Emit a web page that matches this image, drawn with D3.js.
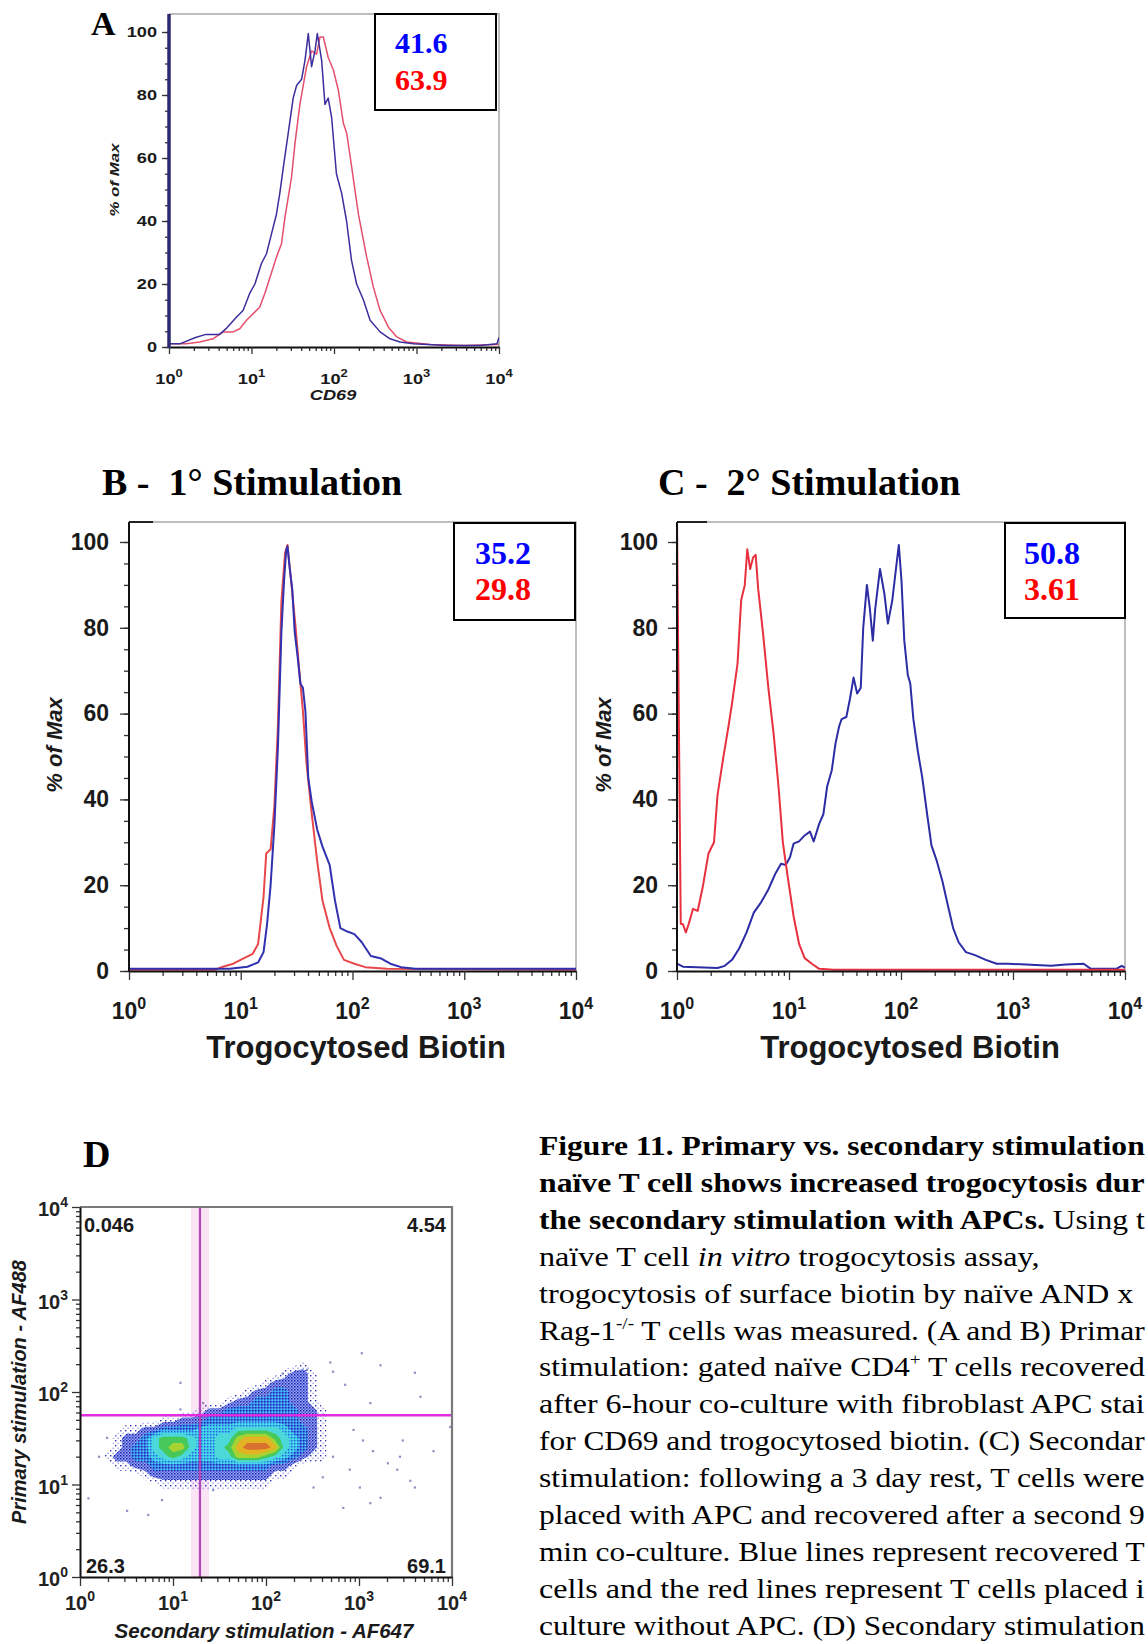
<!DOCTYPE html>
<html>
<head>
<meta charset="utf-8">
<title>Figure 11</title>
<style>
    body { margin: 0; background: #fff; overflow: hidden; }
    svg { display: block; }
</style>
<script src="https://d3js.org/d3.v7.min.js"></script>
</head>
<body>
<svg width="1148" height="1644"></svg>
<script>
// ---- ticks ----
const tickDecades = [1, 10, 100, 1000, 10000];
const tickExponents = ["0", "1", "2", "3", "4"];
const pctTicks = [0, 20, 40, 60, 80, 100];
const pctMinor = d3.range(0, 101, 5);
const minorDecadeTicks = tickDecades.slice(0, -1).flatMap(d => d3.range(2, 10).map(k => k * d));

// ---- panel A: CD69 (value, % of max) ----
const aBlue = [[1,1],[1.35,1],[2.1,3],[2.8,4],[4.1,4],[5,6],[6.6,9.5],[7.9,11.6],[9.5,17],[11,20],[13.2,26.5],[15.2,29.6],[17.5,36],[20,42],[22,48.7],[24.3,57],[27.9,68],[32,79],[35.2,83],[40.5,85],[44.5,91],[48.8,99.5],[53.5,89],[58.8,94],[62.8,99.5],[70.8,91],[77.7,77],[85,79],[93.5,73],[107,55],[124,48.7],[142,40],[163,27.5],[188,20],[227,15],[274,8.5],[362,4.8],[478,2.6],[632,1.6],[916,1],[2340,0.5],[5920,0.5],[9460,1],[10000,3]];
const aRed = [[1,1],[1.62,1],[2.36,1.6],[3.42,2.6],[4.53,4.8],[5.99,4.8],[7.2,5.8],[8.7,8.5],[10.5,10.6],[12.6,12.7],[14.5,17],[16.7,22],[20.1,28.6],[23.1,32.8],[25.4,41],[27.9,47.6],[30.6,54],[33.6,64.5],[38.6,77],[46.5,89],[53.5,94],[61.5,93],[67.6,98.4],[74.2,98.4],[85,92],[98,88],[113,81.5],[130,71],[143,67.7],[164,57],[198,42],[249,28.6],[300,19],[362,11.6],[457,6.3],[577,3.2],[763,1.6],[1466,0.8],[3720,0.5],[9900,0.8]];
const aStats = ["41.6", "63.9"];

// ---- panel B: 1° stimulation ----
const bBlue = [[1,0.5],[6.9,0.5],[7.95,0.5],[11.5,1],[14.3,2],[16,4.4],[17.2,10.9],[18.5,20],[20,34],[21.5,52],[23.1,79],[24.4,91],[25.5,98],[26.2,99],[27.4,94],[28.9,89],[30.4,79],[32.2,73.5],[34.2,67],[36,66],[37.9,60.6],[40.2,45],[43.2,39.4],[48.3,33],[53.9,29],[62.5,24.7],[69.7,16.4],[77.9,10],[90,9.2],[104,8.6],[121,6.7],[146,3.5],[181,2.9],[218,1.7],[272,0.9],[365,0.5],[10000,0.5]];
const bRed = [[1,0.3],[5.93,0.3],[6.9,1],[8.57,1.7],[10.7,3],[12.8,4],[14.3,6.3],[16,17.3],[16.9,27.4],[18.5,28.4],[20,38.5],[21.5,57],[23.1,86],[24.9,97.4],[26.2,99.3],[28.2,91],[31,80],[33.4,70],[36,60.6],[38.7,48.6],[43.2,36.6],[48.3,25.6],[53.9,16.4],[62.5,10],[72.3,5.8],[83.8,2.6],[104,1.7],[130,0.9],[203,0.5],[10000,0.3]];
const bStats = ["35.2", "29.8"];

// ---- panel C: 2° stimulation ----
const cRed = [[1,0],[1,105],[1.08,11],[1.13,10.9],[1.2,9],[1.27,10.9],[1.39,14.5],[1.53,14],[1.71,20],[1.91,27.4],[2.14,30],[2.3,41],[2.58,49.5],[2.88,57],[3.1,62.4],[3.47,71.6],[3.74,86.4],[4.03,90],[4.24,98.3],[4.5,93.7],[4.78,96.4],[5.04,97],[5.31,89],[5.85,79],[6.54,66],[7.31,55],[8.06,43],[8.81,30],[9.86,21],[11,12.7],[12.3,6.3],[13.8,3],[16,1.7],[18.6,0.5],[25,0.3],[10000,0.3]];
const cBlue = [[1,1.7],[1.13,1],[2.3,0.7],[2.67,1.2],[3.1,2.6],[3.6,5.3],[4.18,9],[4.85,13.6],[5.63,16],[6.54,19],[7.59,22.8],[8.49,25],[9.35,24.7],[10.2,26.5],[11,29.7],[12.3,30.2],[13.8,31.6],[15.4,32.5],[16.6,30.2],[18.6,34.3],[20.3,36.6],[21.9,43],[24.1,46.8],[26,53],[28,57],[29.5,58.7],[32.5,59.2],[35,63.4],[37.7,68.4],[40.6,64.7],[43.7,66],[46,80],[49.6,90],[52.7,84.5],[56,77],[58.9,84.5],[64.9,93.7],[71,88],[76.4,81],[83.6,86.4],[90.1,93.7],[95.6,99.3],[101,91],[107,77],[115,69],[121,67],[129,58.7],[141,51.4],[155,45],[171,36.6],[187,29.3],[209,25.6],[234,21],[261,15.5],[292,10],[327,6.7],[380,4.4],[457,3.7],[572,2.6],[715,1.7],[894,1.7],[1300,1.5],[2190,1.2],[2950,1.5],[4270,1.7],[4960,0.5],[8360,0.5],[9340,1.2],[10000,0.8]];
const cStats = ["50.8", "3.61"];

// ---- panel D: density grid, rows top (10^2.4) to bottom (10^0.9), columns 10^0.3 .. 10^2.9, step 0.1 decade ----
const dGridLogX0 = 0.3, dGridLogY0 = 2.4, dGridStep = 0.1;
const dGrid = [
    "000000000000000000000000000",
    "000000000000000000000100000",
    "000000000000000000012210000",
    "000000000000000001222210000",
    "000000000000000122332210000",
    "000000000000012233332210000",
    "000000000012233333333221000",
    "000000112223333333333221000",
    "001122333344445555543321000",
    "012235666544557888654321000",
    "012335677544568999854321000",
    "122334565444557776543211000",
    "011223333333333333221000000",
    "000012222222222222110000000",
    "000000111111111111000000000",
    "000000000000000000000000000"
];
const dOutliers = [[1070,263],[1700,195],[490,209],[525,166],[708,120],[1320,76],[3980,162],[4570,89],[871,39],[1100,30],[1410,23],[2040,17],[2750,20],[3550,11],[3980,9.3],[1320,6.3],[676,5.6],[1020,9.3],[1700,7.2],[2950,30],[6310,23],[794,14.5],[525,20],[407,12],[324,9.3],[1.23,7.1],[3.2,5.2],[5.4,4.7],[7.6,6.8],[1.6,20],[1.95,32],[12,65],[27,8.7],[12,126],[21,76],[9550,42],[151,158],[275,174],[2570,14.5]];
const dGateX = 19.5, dGateY = 56;
const dQuadrants = ["0.046", "4.54", "26.3", "69.1"];

// ---- caption (as much as the page shows) ----
const captionLines = [
    [["b", "Figure 11. Primary vs. secondary stimulation"]],
    [["b", "naïve T cell shows increased trogocytosis dur"]],
    [["b", "the secondary stimulation with APCs."], ["n", " Using t"]],
    [["n", "naïve T cell "], ["i", "in vitro"], ["n", " trogocytosis assay,"]],
    [["n", "trogocytosis of surface biotin by naïve AND x"]],
    [["n", "Rag-1"], ["sup", "-/-"], ["n", " T cells was measured. (A and B) Primar"]],
    [["n", "stimulation: gated naïve CD4"], ["sup", "+"], ["n", " T cells recovered"]],
    [["n", "after 6-hour co-culture with fibroblast APC stai"]],
    [["n", "for CD69 and trogocytosed biotin. (C) Secondar"]],
    [["n", "stimulation: following a 3 day rest, T cells were"]],
    [["n", "placed with APC and recovered after a second 9"]],
    [["n", "min co-culture. Blue lines represent recovered T"]],
    [["n", "cells and the red lines represent T cells placed i"]],
    [["n", "culture without APC. (D) Secondary stimulation"]]
];

const SANS = "'Liberation Sans', Arial, sans-serif";
const SERIF = "'Liberation Serif', 'Times New Roman', serif";
const svg = d3.select("svg");
const defs = svg.append("defs");

function drawHist(o) {
    const x = d3.scaleLog().domain([1, 1e4]).range([o.left, o.right]);
    const y = d3.scaleLinear().domain([0, 100]).range([o.y0, o.y100]);
    const g = svg.append("g");
    const clipId = "clip-" + o.id;
    defs.append("clipPath").attr("id", clipId).append("rect")
        .attr("x", o.left).attr("y", o.top)
        .attr("width", o.right - o.left).attr("height", o.y0 - o.top + 1);

    // grey frame top / right
    g.append("path").attr("d", `M${o.left},${o.top}H${o.right}V${o.y0}`)
        .attr("fill", "none").attr("stroke", "#a8a8a8").attr("stroke-width", 1.5);
    if (o.stub) g.append("line").attr("x1", o.left).attr("x2", o.left + o.stub)
        .attr("y1", o.top).attr("y2", o.top).attr("stroke", "#222").attr("stroke-width", 2);

    const line = d3.line().x(d => x(d[0])).y(d => y(d[1]));
    o.series.forEach(s => {
        g.append("path").datum(s.values).attr("d", line)
            .attr("fill", "none").attr("stroke", s.color).attr("stroke-width", o.lineWidth)
            .attr("stroke-linejoin", "round").attr("clip-path", `url(#${clipId})`);
    });

    // x axis
    const xMinor = g.append("g").attr("transform", `translate(0,${o.y0})`)
        .call(d3.axisBottom(x).tickValues(minorDecadeTicks).tickSize(o.minorTick).tickFormat("").tickSizeOuter(0));
    xMinor.select(".domain").remove();
    const xMajor = g.append("g").attr("transform", `translate(0,${o.y0})`)
        .call(d3.axisBottom(x).tickValues(tickDecades).tickSize(o.majorTick).tickFormat("").tickSizeOuter(0));
    xMajor.select(".domain").attr("stroke", "#111").attr("stroke-width", 2);
    g.selectAll(".tick line").attr("stroke", "#333").attr("stroke-width", 1.3);

    tickDecades.forEach((d, i) => {
        const t = g.append("text").attr("text-anchor", "middle")
            .attr("font-family", SANS).attr("font-weight", "bold")
            .attr("font-size", o.tickFont).attr("fill", "#1a1a1a")
            .attr("transform", `translate(${x(d)},${o.xLabelY}) scale(${o.stretch},1)`);
        t.append("tspan").text("10");
        t.append("tspan").attr("font-size", o.supFont).attr("dy", -o.supRise).text(tickExponents[i]);
    });

    // y axis
    const yg = g.append("g").attr("transform", `translate(${o.left},0)`);
    yg.append("g").call(d3.axisLeft(y).tickValues(pctMinor).tickSize(o.minorTick).tickFormat(""))
        .select(".domain").remove();
    const ym = yg.append("g").call(d3.axisLeft(y).tickValues(pctTicks).tickSize(o.majorTick)
        .tickPadding(o.yPad).tickFormat(d3.format("d")));
    ym.select(".domain").remove();
    yg.selectAll(".tick line").attr("stroke", "#333").attr("stroke-width", 1.3);
    ym.selectAll("text")
        .attr("font-family", SANS).attr("font-size", o.tickFont).attr("font-weight", "bold").attr("fill", "#1a1a1a")
        .attr("x", 0).attr("transform", `translate(${-(o.majorTick + o.yPad)},0) scale(${o.stretch},1)`);
    g.append("line").attr("x1", o.left).attr("x2", o.left).attr("y1", o.top).attr("y2", o.y0 + 1)
        .attr("stroke", o.axisColor).attr("stroke-width", o.axisWidth);

    // axis titles
    g.append("text").attr("text-anchor", "middle").attr("font-family", SANS)
        .attr("font-weight", "bold").attr("font-style", o.xTitleItalic ? "italic" : "normal")
        .attr("font-size", o.xTitleFont).attr("fill", "#1a1a1a")
        .attr("transform", `translate(${o.xTitleX},${o.xTitleY}) scale(${o.stretch},1)`)
        .text(o.xTitle);
    g.append("text").attr("text-anchor", "middle").attr("font-family", SANS)
        .attr("font-weight", "bold").attr("font-style", "italic")
        .attr("font-size", o.yTitleFont).attr("fill", "#1a1a1a")
        .attr("transform", `translate(${o.yTitleX},${o.yTitleY}) rotate(-90) scale(${o.stretch},1)`)
        .text("% of Max");

    // stats box
    g.append("rect").attr("x", o.box[0]).attr("y", o.box[1]).attr("width", o.box[2]).attr("height", o.box[3])
        .attr("fill", "#fff").attr("stroke", "#000").attr("stroke-width", 2);
    o.stats.forEach((s, i) => {
        g.append("text").attr("x", o.statX).attr("y", o.statY[i])
            .attr("font-family", SERIF).attr("font-weight", "bold").attr("font-size", o.statFont)
            .attr("fill", i === 0 ? "#0000ff" : "#ff0000").text(s);
    });

    if (o.title) {
        svg.append("text").attr("x", o.title.x).attr("y", o.title.y)
            .attr("font-family", SERIF).attr("font-weight", "bold").attr("font-size", o.title.size)
            .attr("fill", "#000").style("white-space", "pre").text(o.title.text);
    }
}

drawHist({
    id: "A", left: 169, right: 499, top: 14, y0: 347, y100: 32,
    series: [{ values: aRed, color: "#e4506c" }, { values: aBlue, color: "#3a2f9c" }],
    lineWidth: 1.5, minorTick: 4, majorTick: 7, yPad: 5, stretch: 1.3,
    tickFont: 14, supFont: 10, supRise: 7, xLabelY: 384,
    axisColor: "#2a2a72", axisWidth: 3.5,
    xTitle: "CD69", xTitleItalic: true, xTitleFont: 14, xTitleX: 333, xTitleY: 400,
    yTitleFont: 13, yTitleX: 119, yTitleY: 180,
    box: [375, 14, 121, 96], stats: aStats, statX: 395, statY: [53, 90], statFont: 30,
    title: { text: "A", x: 91, y: 35, size: 34 }
});

drawHist({
    id: "B", left: 129, right: 576, top: 522, y0: 971, y100: 542,
    series: [{ values: bRed, color: "#e8484a" }, { values: bBlue, color: "#3030b0" }],
    lineWidth: 2, minorTick: 5, majorTick: 9, yPad: 11, stretch: 1,
    tickFont: 23, supFont: 16, supRise: 10, xLabelY: 1019, stub: 24,
    axisColor: "#111", axisWidth: 2,
    xTitle: "Trogocytosed Biotin", xTitleItalic: false, xTitleFont: 31, xTitleX: 356, xTitleY: 1058,
    yTitleFont: 22, yTitleX: 62, yTitleY: 745,
    box: [454, 523, 121, 97], stats: bStats, statX: 475, statY: [564, 600], statFont: 32,
    title: { text: "B -  1° Stimulation", x: 102, y: 495, size: 38 }
});

drawHist({
    id: "C", left: 677, right: 1125, top: 522, y0: 971, y100: 542,
    series: [{ values: cBlue, color: "#2c2ca4" }, { values: cRed, color: "#e8303e" }],
    lineWidth: 2, minorTick: 5, majorTick: 9, yPad: 10, stretch: 1,
    tickFont: 23, supFont: 16, supRise: 10, xLabelY: 1019, stub: 30,
    axisColor: "#111", axisWidth: 2,
    xTitle: "Trogocytosed Biotin", xTitleItalic: false, xTitleFont: 31, xTitleX: 910, xTitleY: 1058,
    yTitleFont: 22, yTitleX: 611, yTitleY: 745,
    box: [1005, 523, 120, 95], stats: cStats, statX: 1024, statY: [564, 600], statFont: 32,
    title: { text: "C -  2° Stimulation", x: 658, y: 495, size: 38 }
});

// ---- panel D ----
function drawDot() {
    const L = { left: 80, right: 452, top: 1207, bottom: 1577 };
    const x = d3.scaleLog().domain([1, 1e4]).range([L.left, L.right]);
    const y = d3.scaleLog().domain([1, 1e4]).range([L.bottom, L.top]);
    const g = svg.append("g");

    defs.append("clipPath").attr("id", "clip-D").append("rect")
        .attr("x", L.left).attr("y", L.top).attr("width", L.right - L.left).attr("height", L.bottom - L.top);

    // speckle patterns for the low-density bands
    const pat = (id, size, bg, dots) => {
        const p = defs.append("pattern").attr("id", id).attr("patternUnits", "userSpaceOnUse")
            .attr("width", size).attr("height", size);
        if (bg) p.append("rect").attr("width", size).attr("height", size).attr("fill", bg);
        dots.forEach(d => p.append("rect").attr("x", d[0]).attr("y", d[1]).attr("width", d[2]).attr("height", d[2]).attr("fill", d[3]));
    };
    pat("sp1", 5, null, [[0, 0, 1.4, "#2630b4"], [2.5, 2.6, 1.3, "#8a94e4"]]);
    pat("sp2", 3, "#9aa4f0", [[0, 0, 1.5, "#1a22a6"], [1.5, 1.5, 1.4, "#3a52de"]]);
    pat("sp3", 3, "#3f7fee", [[0, 0, 1.5, "#1d2bb0"], [1.5, 1.5, 1.4, "#46d4f2"]]);
    pat("sp4", 3, "#3ec8ee", [[0, 0, 1.4, "#2a5ed8"], [1.5, 1.5, 1.4, "#52e2e6"]]);

    g.append("rect").attr("x", x(dGateX) - 9).attr("y", L.top).attr("width", 18).attr("height", L.bottom - L.top)
        .attr("fill", "#fbe2f4");

    const values = dGrid.flatMap(r => r.split("").map(Number));
    const n = dGrid[0].length, m = dGrid.length;
    const bands = d3.contours().size([n, m]).thresholds([0.5, 1.5, 2.5, 3.5, 4.5, 5.5, 6.5, 7.5, 8.5])(values);
    const fills = ["url(#sp1)", "url(#sp2)", "url(#sp3)", "url(#sp4)", "#4cd8d8", "#46c85a", "#a6d232", "#e2b424", "#d87030"];
    const proj = d3.geoTransform({
        point: function (gx, gy) {
            this.stream.point(
                x(Math.pow(10, dGridLogX0 + (gx - 0.5) * dGridStep)),
                y(Math.pow(10, dGridLogY0 - (gy - 0.5) * dGridStep)));
        }
    });
    const path = d3.geoPath(proj);
    g.append("g").attr("clip-path", "url(#clip-D)").selectAll("path").data(bands).join("path")
        .attr("d", path).attr("fill", (d, i) => fills[i]);

    g.append("g").attr("clip-path", "url(#clip-D)").selectAll("rect").data(dOutliers).join("rect")
        .attr("x", d => x(d[0]) - 1).attr("y", d => y(d[1]) - 1).attr("width", 2.2).attr("height", 2.2)
        .attr("fill", "#6a6ab4").attr("opacity", 0.75);

    // quadrant gate
    g.append("line").attr("x1", x(dGateX)).attr("x2", x(dGateX)).attr("y1", L.top).attr("y2", L.bottom)
        .attr("stroke", "#b048b8").attr("stroke-width", 2.2);
    g.append("line").attr("x1", L.left).attr("x2", L.right).attr("y1", y(dGateY)).attr("y2", y(dGateY))
        .attr("stroke", "#e22ce0").attr("stroke-width", 2.5);

    // frame
    g.append("path").attr("d", `M${L.left},${L.top}H${L.right}V${L.bottom}`)
        .attr("fill", "none").attr("stroke", "#7a7a7a").attr("stroke-width", 2.2);

    // axes
    const xa1 = g.append("g").attr("transform", `translate(0,${L.bottom})`)
        .call(d3.axisBottom(x).tickValues(minorDecadeTicks).tickSize(5).tickFormat("").tickSizeOuter(0));
    xa1.select(".domain").remove();
    const xa2 = g.append("g").attr("transform", `translate(0,${L.bottom})`)
        .call(d3.axisBottom(x).tickValues(tickDecades).tickSize(9).tickFormat("").tickSizeOuter(0));
    xa2.select(".domain").attr("stroke", "#111").attr("stroke-width", 2);
    const ya1 = g.append("g").attr("transform", `translate(${L.left},0)`)
        .call(d3.axisLeft(y).tickValues(minorDecadeTicks).tickSize(4).tickFormat("").tickSizeOuter(0));
    ya1.select(".domain").remove();
    const ya2 = g.append("g").attr("transform", `translate(${L.left},0)`)
        .call(d3.axisLeft(y).tickValues(tickDecades).tickSize(8).tickFormat("").tickSizeOuter(0));
    ya2.select(".domain").attr("stroke", "#111").attr("stroke-width", 2);
    g.selectAll(".tick line").attr("stroke", "#333").attr("stroke-width", 1.3);

    tickDecades.forEach((d, i) => {
        const tx = g.append("text").attr("x", x(d)).attr("y", 1610).attr("text-anchor", "middle")
            .attr("font-family", SANS).attr("font-weight", "bold").attr("font-size", 20).attr("fill", "#222");
        tx.append("tspan").text("10");
        tx.append("tspan").attr("font-size", 14).attr("dy", -9).text(tickExponents[i]);
        const ty = g.append("text").attr("x", 68).attr("y", y(d) + 9).attr("text-anchor", "end")
            .attr("font-family", SANS).attr("font-weight", "bold").attr("font-size", 20).attr("fill", "#222");
        ty.append("tspan").text("10");
        ty.append("tspan").attr("font-size", 14).attr("dy", -9).text(tickExponents[i]);
    });

    const qs = [[84, 1232, "start"], [446, 1232, "end"], [86, 1573, "start"], [446, 1573, "end"]];
    dQuadrants.forEach((q, i) => {
        g.append("text").attr("x", qs[i][0]).attr("y", qs[i][1]).attr("text-anchor", qs[i][2])
            .attr("font-family", SANS).attr("font-weight", "bold").attr("font-size", 20)
            .attr("fill", "#1a1a1a").text(q);
    });

    g.append("text").attr("x", 264).attr("y", 1638).attr("text-anchor", "middle")
        .attr("font-family", SANS).attr("font-weight", "bold").attr("font-style", "italic")
        .attr("font-size", 20.5).attr("fill", "#1a1a1a").text("Secondary stimulation - AF647");
    g.append("text").attr("transform", "translate(26,1392) rotate(-90)").attr("text-anchor", "middle")
        .attr("font-family", SANS).attr("font-weight", "bold").attr("font-style", "italic")
        .attr("font-size", 20).attr("fill", "#1a1a1a").text("Primary stimulation - AF488");

    svg.append("text").attr("x", 83).attr("y", 1167).attr("font-family", SERIF)
        .attr("font-weight", "bold").attr("font-size", 38).text("D");
}
drawDot();

// ---- caption: widened like the scan, but kept inside the page ----
const capLeft = 539, capRoom = 1148 - 539 - 3;
const cap = svg.append("g").attr("font-family", SERIF).attr("font-size", 28).attr("fill", "#000");
captionLines.forEach((segs, i) => {
    const t = cap.append("text").style("white-space", "pre");
    let raised = false;
    segs.forEach(([kind, str]) => {
        const s = t.append("tspan").text(str);
        if (kind === "b") s.attr("font-weight", "bold");
        if (kind === "i") s.attr("font-style", "italic");
        if (kind === "sup") { s.attr("font-size", 17).attr("dy", -11); raised = true; }
        else if (raised) { s.attr("dy", 11); raised = false; }
    });
    const w = t.node().getComputedTextLength();
    const k = Math.min(1.15, capRoom / w);
    t.attr("transform", `translate(${capLeft},${1155 + i * 36.9}) scale(${k},1)`);
});
</script>
</body>
</html>
